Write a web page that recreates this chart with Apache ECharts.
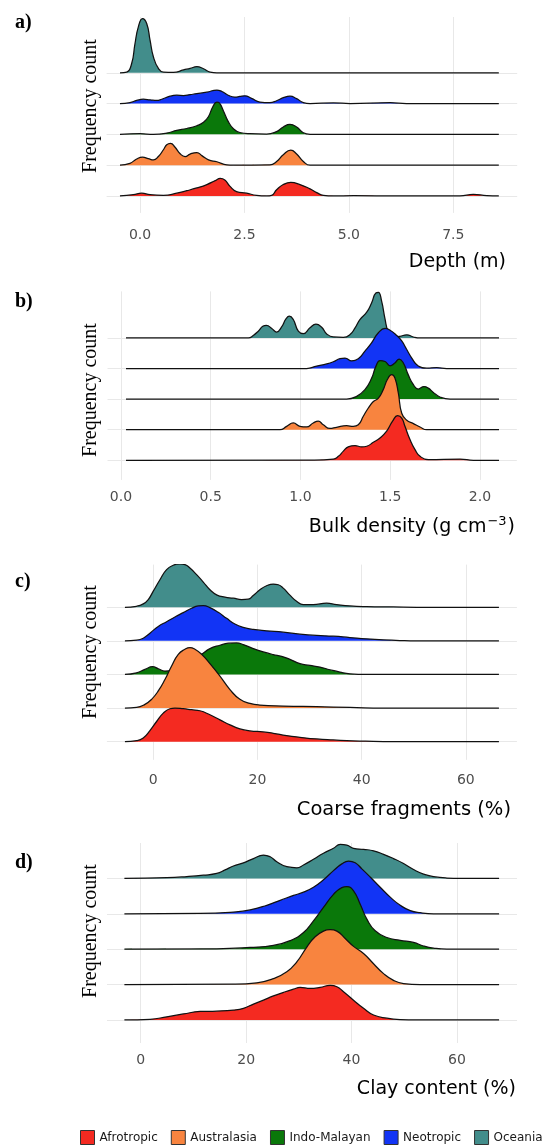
<!DOCTYPE html>
<html><head><meta charset="utf-8">
<script src="https://cdn.jsdelivr.net/npm/echarts@6/dist/echarts.min.js"></script>
<style>html,body{margin:0;padding:0;background:#fff}#c{width:548px;height:1148px}</style>
</head><body><div id="c"></div>
<script>
// ---------- categories ----------
const regions = ['Afrotropic', 'Australasia', 'Indo-Malayan', 'Neotropic', 'Oceania'];

// ---------- tick labels ----------
const depthTicks = [0, 2.5, 5, 7.5];
const bulkTicks = [0, 0.5, 1, 1.5, 2];
const coarseTicks = [0, 20, 40, 60];
const clayTicks = [0, 20, 40, 60];

// ---------- densities: [x value, ridge height (in ridge-spacing units)] ----------
// a) Depth (m)
const depthAfrotropic = [[-0.48,0],[-0.16,0.04],[0.04,0.09],[0.24,0.04],[0.56,0.02],[0.88,0.09],[1.12,0.17],[1.36,0.26],[1.6,0.37],[1.8,0.5],[1.92,0.57],[2.03,0.52],[2.15,0.32],[2.31,0.14],[2.55,0.09],[2.79,0.02],[3.03,0],[3.15,0.02],[3.27,0.2],[3.43,0.37],[3.61,0.44],[3.83,0.37],[4.07,0.23],[4.23,0.11],[4.39,0.02],[4.63,0],[5.11,0.01],[6.22,0],[7.66,0],[7.98,0.05],[8.3,0.01],[8.59,0]];
const depthAustralasia = [[-0.48,0],[-0.24,0.06],[-0.08,0.2],[0.06,0.26],[0.2,0.21],[0.32,0.17],[0.44,0.28],[0.56,0.5],[0.64,0.66],[0.73,0.71],[0.84,0.58],[0.96,0.37],[1.08,0.28],[1.2,0.36],[1.36,0.41],[1.48,0.31],[1.64,0.17],[1.84,0.11],[2.08,0.01],[2.23,0],[3.11,0.01],[3.27,0.12],[3.43,0.34],[3.61,0.49],[3.75,0.36],[3.91,0.12],[4.07,0],[8.59,0]];
const depthIndoMalayan = [[-0.48,0],[0,0.02],[0.32,0],[0.64,0.04],[0.88,0.13],[1.12,0.19],[1.36,0.28],[1.52,0.39],[1.64,0.58],[1.74,0.89],[1.84,1.05],[1.9,1.02],[2.0,0.75],[2.11,0.42],[2.23,0.19],[2.39,0.06],[2.63,0.02],[3.03,0.01],[3.27,0.09],[3.43,0.24],[3.59,0.32],[3.75,0.24],[3.91,0.05],[4.07,0],[8.59,0]];
const depthNeotropic = [[-0.48,0],[-0.24,0.03],[-0.08,0.1],[0.08,0.14],[0.24,0.12],[0.4,0.1],[0.52,0.14],[0.72,0.24],[0.88,0.27],[1.04,0.26],[1.2,0.29],[1.36,0.32],[1.6,0.37],[1.84,0.44],[1.96,0.39],[2.11,0.27],[2.27,0.21],[2.39,0.23],[2.51,0.25],[2.67,0.17],[2.87,0.05],[3.11,0.03],[3.27,0.09],[3.43,0.19],[3.59,0.24],[3.75,0.16],[3.91,0.03],[4.07,0],[4.63,0.02],[5.03,0],[5.99,0.03],[6.38,0],[8.59,0]];
const depthOceania = [[-0.48,0],[-0.32,0.02],[-0.2,0.3],[-0.12,0.95],[-0.04,1.49],[0.06,1.76],[0.16,1.6],[0.24,1.06],[0.32,0.52],[0.44,0.14],[0.56,0.02],[0.8,0.01],[1.04,0.09],[1.2,0.14],[1.36,0.195],[1.52,0.13],[1.68,0.02],[1.84,0],[8.59,0]];

// b) Bulk density (g cm-3)
const bulkAfrotropic = [[0.028,0],[1.071,0.01],[1.183,0.04],[1.211,0.13],[1.239,0.3],[1.266,0.44],[1.304,0.48],[1.341,0.44],[1.369,0.46],[1.406,0.59],[1.443,0.73],[1.48,0.95],[1.513,1.28],[1.541,1.46],[1.564,1.38],[1.582,1.11],[1.61,0.68],[1.638,0.35],[1.666,0.13],[1.712,0.02],[1.889,0.04],[1.963,0],[2.106,0]];
const bulkAustralasia = [[0.028,0],[0.886,0],[0.923,0.11],[0.96,0.22],[0.997,0.11],[1.034,0.09],[1.071,0.22],[1.099,0.28],[1.127,0.16],[1.164,0.04],[1.201,0.08],[1.257,0.13],[1.294,0.11],[1.322,0.16],[1.35,0.44],[1.378,0.71],[1.406,0.92],[1.434,1.03],[1.461,1.31],[1.484,1.64],[1.508,1.8],[1.526,1.69],[1.545,1.2],[1.564,0.54],[1.592,0.31],[1.629,0.2],[1.666,0.09],[1.703,0],[2.106,0]];
const bulkIndoMalayan = [[0.028,0],[1.257,0],[1.313,0.09],[1.359,0.31],[1.396,0.68],[1.42,1.07],[1.443,1.26],[1.471,1.23],[1.499,1.09],[1.526,1.18],[1.55,1.31],[1.573,1.18],[1.6,0.8],[1.629,0.47],[1.656,0.33],[1.688,0.41],[1.712,0.36],[1.74,0.22],[1.777,0.07],[1.833,0],[2.106,0]];
const bulkNeotropic = [[0.028,0],[1.034,0],[1.09,0.08],[1.146,0.15],[1.183,0.22],[1.22,0.32],[1.248,0.34],[1.285,0.25],[1.322,0.32],[1.359,0.57],[1.396,0.84],[1.434,1.17],[1.471,1.31],[1.499,1.25],[1.536,1.08],[1.564,0.9],[1.592,0.62],[1.619,0.35],[1.656,0.08],[1.703,0.01],[1.759,0.03],[1.814,0],[2.106,0]];
const bulkOceania = [[0.028,0],[0.71,0],[0.737,0.08],[0.765,0.22],[0.79,0.38],[0.81,0.41],[0.84,0.31],[0.867,0.19],[0.895,0.36],[0.919,0.62],[0.938,0.71],[0.96,0.6],[0.988,0.22],[1.016,0.14],[1.053,0.33],[1.086,0.45],[1.118,0.35],[1.146,0.13],[1.183,0.03],[1.239,0.02],[1.276,0.11],[1.304,0.33],[1.331,0.6],[1.369,0.84],[1.396,1.14],[1.42,1.47],[1.434,1.49],[1.452,1.2],[1.47,0.65],[1.491,0.16],[1.517,0.03],[1.554,0.05],[1.592,0.1],[1.629,0.03],[1.666,0],[2.106,0]];

// c) Coarse fragments (%)
const coarseAfrotropic = [[-5.44,0],[-3.2,0.03],[-1.92,0.11],[-0.64,0.33],[0.64,0.6],[1.92,0.85],[3.2,0.98],[4.16,1.0],[5.76,0.98],[7.36,0.95],[8.96,0.92],[10.88,0.8],[12.8,0.65],[14.72,0.5],[16.63,0.38],[18.55,0.32],[21.11,0.29],[23.03,0.25],[25.59,0.18],[28.15,0.13],[31.35,0.08],[34.55,0.05],[38.39,0.02],[42.23,0.01],[47.34,0],[66.35,0]];
const coarseAustralasia = [[-5.44,0],[-3.2,0.02],[-1.6,0.11],[-0.32,0.26],[0.96,0.51],[2.24,0.85],[3.52,1.25],[4.8,1.6],[6.08,1.75],[7.04,1.8],[8,1.75],[9.28,1.6],[10.88,1.32],[12.8,0.95],[14.72,0.55],[16.63,0.26],[18.55,0.14],[20.47,0.09],[24.95,0.06],[31.35,0.04],[37.75,0.02],[44.15,0],[66.35,0]];
const coarseIndoMalayan = [[-5.44,0],[-3.2,0.05],[-1.6,0.15],[-0.13,0.23],[0.96,0.17],[2.24,0.1],[3.52,0.12],[5.12,0.3],[7.04,0.45],[8.96,0.57],[10.88,0.77],[12.8,0.87],[14.4,0.93],[16,0.94],[17.27,0.89],[19.19,0.77],[21.11,0.67],[23.03,0.59],[24.63,0.54],[26.23,0.45],[28.15,0.32],[30.07,0.27],[31.99,0.22],[33.91,0.14],[35.83,0.07],[37.75,0.02],[40.95,0],[66.35,0]];
const coarseNeotropic = [[-5.44,0],[-3.2,0.02],[-1.92,0.08],[-0.64,0.23],[0.96,0.43],[2.56,0.57],[4.16,0.71],[5.76,0.84],[7.36,0.97],[8.64,1.04],[9.6,1.05],[10.88,0.99],[12.48,0.85],[14.08,0.67],[15.67,0.5],[17.27,0.4],[19.19,0.34],[21.75,0.3],[24.95,0.26],[28.15,0.2],[31.35,0.16],[34.55,0.14],[37.75,0.1],[40.95,0.06],[44.15,0.03],[47.34,0.01],[50.54,0],[66.35,0]];
const coarseOceania = [[-5.44,0],[-3.2,0.03],[-1.92,0.1],[-0.96,0.23],[0,0.48],[1.28,0.82],[2.56,1.12],[3.84,1.25],[5.12,1.29],[6.08,1.27],[7.04,1.17],[8.32,0.97],[9.6,0.75],[10.88,0.52],[12.16,0.37],[13.76,0.3],[15.36,0.27],[16.95,0.23],[18.23,0.24],[19.19,0.35],[20.47,0.52],[21.75,0.64],[23.03,0.69],[23.99,0.67],[24.95,0.57],[26.23,0.36],[27.51,0.18],[28.79,0.08],[30.71,0.08],[33.27,0.12],[35.19,0.08],[37.75,0.04],[40.95,0.02],[46.07,0.01],[50.54,0],[66.35,0]];

// d) Clay content (%)
const clayAfrotropic = [[-3.1,0],[1.77,0.02],[4.94,0.09],[8.1,0.17],[11.27,0.24],[14.43,0.25],[17.59,0.28],[19.49,0.33],[21.39,0.45],[23.29,0.56],[25.19,0.68],[27.09,0.78],[28.99,0.87],[30.25,0.92],[32.15,0.89],[34.05,0.92],[35.95,0.98],[37.22,0.94],[38.48,0.8],[40.38,0.56],[42.28,0.33],[44.18,0.14],[46.71,0.05],[49.24,0.01],[52.41,0],[68,0]];
const clayAustralasia = [[-3.1,0],[17.59,0.01],[22.03,0.05],[25.19,0.17],[27.72,0.36],[29.62,0.64],[31.52,1.06],[33.1,1.35],[34.68,1.51],[35.95,1.55],[37.22,1.51],[38.8,1.3],[40.38,1.08],[42.28,0.88],[44.18,0.59],[46.08,0.31],[47.97,0.12],[49.87,0.03],[53.04,0],[68,0]];
const clayIndoMalayan = [[-3.1,0],[14.43,0.01],[20.76,0.05],[25.19,0.11],[28.35,0.24],[30.89,0.47],[32.78,0.8],[34.68,1.18],[36.58,1.55],[38.16,1.74],[39.11,1.77],[40.38,1.65],[41.65,1.27],[42.91,0.85],[44.49,0.52],[46.71,0.33],[49.24,0.25],[51.77,0.19],[53.67,0.09],[55.57,0.03],[58.1,0],[68,0]];
const clayNeotropic = [[-3.1,0],[11.27,0.01],[17.59,0.05],[20.76,0.11],[23.92,0.24],[26.46,0.38],[28.99,0.52],[30.89,0.61],[32.78,0.75],[34.68,0.96],[36.58,1.22],[38.16,1.41],[39.43,1.49],[40.7,1.44],[41.96,1.27],[43.54,1.04],[45.44,0.75],[47.34,0.47],[49.24,0.24],[51.14,0.09],[53.04,0.03],[55.57,0],[68,0]];
const clayOceania = [[-3.1,0],[4.94,0.02],[8.73,0.05],[11.9,0.09],[14.43,0.14],[16.01,0.24],[17.59,0.35],[19.49,0.44],[21.39,0.56],[23.29,0.66],[24.56,0.61],[25.82,0.47],[27.72,0.33],[29.62,0.3],[30.89,0.38],[32.78,0.54],[34.68,0.71],[36.58,0.85],[37.85,0.96],[39.11,0.94],[40.38,0.85],[42.28,0.82],[44.18,0.78],[46.08,0.68],[47.97,0.56],[49.87,0.42],[51.77,0.25],[53.67,0.12],[55.57,0.05],[58.1,0.01],[60.63,0],[68,0]];

// ---------- assembly ----------
const colors = ['#F42A21', '#F8843F', '#0A780A', '#1234F5', '#428D8B'];
const SANS = '"DejaVu Sans", sans-serif';
const SERIF = '"Liberation Serif", "Times New Roman", serif';

const panels = [
  { sets: [depthAfrotropic, depthAustralasia, depthIndoMalayan, depthNeotropic, depthOceania], ticks: depthTicks, fmt: v => v.toFixed(1), title: 'Depth (m)', tag: 'a)' },
  { sets: [bulkAfrotropic, bulkAustralasia, bulkIndoMalayan, bulkNeotropic, bulkOceania], ticks: bulkTicks, fmt: v => v.toFixed(1), title: '{n|Bulk density (g cm}{s|\u22123}{n|)}', tag: 'b)' },
  { sets: [coarseAfrotropic, coarseAustralasia, coarseIndoMalayan, coarseNeotropic, coarseOceania], ticks: coarseTicks, fmt: v => String(v), title: 'Coarse fragments (%)', tag: 'c)' },
  { sets: [clayAfrotropic, clayAustralasia, clayIndoMalayan, clayNeotropic, clayOceania], ticks: clayTicks, fmt: v => String(v), title: 'Clay content (%)', tag: 'd)' }
];

const layout = [
  { grid: { left: 106.6, top: 17, width: 410.6, height: 195.9 }, x: [-0.8, 9.03], y: [-0.55, 5.81], margin: 15, titleX: 506, titleY: 262, titleSize: 19, tagY: 23, ylabY: 106 },
  { grid: { left: 107.5, top: 291.4, width: 409.3, height: 188.5 }, x: [-0.075, 2.205], y: [-0.64, 5.52], margin: 10, titleX: 515, titleY: 527, titleSize: 19, tagY: 302, ylabY: 390 },
  { grid: { left: 106.9, top: 564.6, width: 410.0, height: 195.2 }, x: [-8.9, 69.8], y: [-0.54, 5.27], margin: 14, titleX: 511, titleY: 810, titleSize: 19.5, tagY: 582, ylabY: 652 },
  { grid: { left: 107.0, top: 843, width: 410.0, height: 200 }, x: [-6.4, 71.4], y: [-0.65, 5.0], margin: 10, titleX: 516, titleY: 1089, titleSize: 19, tagY: 863, ylabY: 931 }
];

const grids = [], xAxes = [], yAxes = [], series = [], graphics = [];
panels.forEach((p, i) => {
  const L = layout[i];
  grids.push(L.grid);
  xAxes.push({
    type: 'value', gridIndex: i, min: L.x[0], max: L.x[1],
    axisLine: { show: false }, axisTick: { show: false }, splitLine: { show: false },
    axisLabel: { customValues: p.ticks, formatter: p.fmt, margin: L.margin, fontFamily: SANS, fontSize: 14, color: '#4D4D4D' }
  });
  yAxes.push({ type: 'value', gridIndex: i, min: L.y[0], max: L.y[1], show: false });
  // background grid lines (vertical at ticks, horizontal at each ridge baseline)
  series.push({
    type: 'line', xAxisIndex: i, yAxisIndex: i, data: [], z: 1, silent: true, animation: false,
    markLine: {
      z: 1, silent: true, animation: false, symbol: ['none', 'none'], label: { show: false },
      lineStyle: { color: '#E8E8E8', width: 1, type: 'solid' },
      emphasis: { disabled: true },
      data: p.ticks.map(t => ({ xAxis: t })).concat(regions.map((r, k) => ({ yAxis: k })))
    }
  });
  for (let k = regions.length - 1; k >= 0; k--) {
    series.push({
      type: 'line', name: regions[k], xAxisIndex: i, yAxisIndex: i,
      data: p.sets[k].map(d => [d[0], k + d[1]]),
      smooth: 0.5, symbol: 'none', showSymbol: false,
      lineStyle: { color: '#111', width: 1.25 },
      itemStyle: { color: colors[k] },
      areaStyle: { color: colors[k], opacity: 1, origin: k },
      z: 2 + (regions.length - 1 - k), silent: true, animation: false
    });
  }
  const ts = L.titleSize;
  graphics.push({ type: 'text', x: 15, y: L.tagY, style: { text: p.tag, font: 'bold 20px ' + SERIF, fill: '#000', align: 'left', verticalAlign: 'middle' } });
  graphics.push({ type: 'text', x: 91, y: L.ylabY, rotation: Math.PI / 2, style: { text: 'Frequency count', font: '20px ' + SERIF, fill: '#000', align: 'center', verticalAlign: 'middle' } });
  graphics.push({ type: 'text', x: L.titleX, y: L.titleY, style: {
    text: p.title, font: ts + 'px ' + SANS, fill: '#000', align: 'right', verticalAlign: 'middle',
    rich: {
      n: { fontFamily: SANS, fontSize: ts, lineHeight: 23, fill: '#000' },
      s: { fontFamily: SANS, fontSize: 13, lineHeight: 13, verticalAlign: 'top', fill: '#000', padding: [0, 1, 0, 1] }
    }
  } });
});

const chart = echarts.init(document.getElementById('c'), null, { renderer: 'canvas' });
chart.setOption({
  backgroundColor: '#fff',
  animation: false,
  grid: grids, xAxis: xAxes, yAxis: yAxes, series: series,
  legend: {
    data: regions.map((n, k) => ({ name: n, itemStyle: { color: colors[k] } })),
    icon: 'rect', itemWidth: 14, itemHeight: 14, itemGap: 13, left: 80, top: 1130, padding: 0,
    selectedMode: false,
    itemStyle: { borderColor: '#333', borderWidth: 1 },
    textStyle: { fontFamily: SANS, fontSize: 12, color: '#1a1a1a' }
  },
  graphic: graphics
});
</script>
</body></html>
